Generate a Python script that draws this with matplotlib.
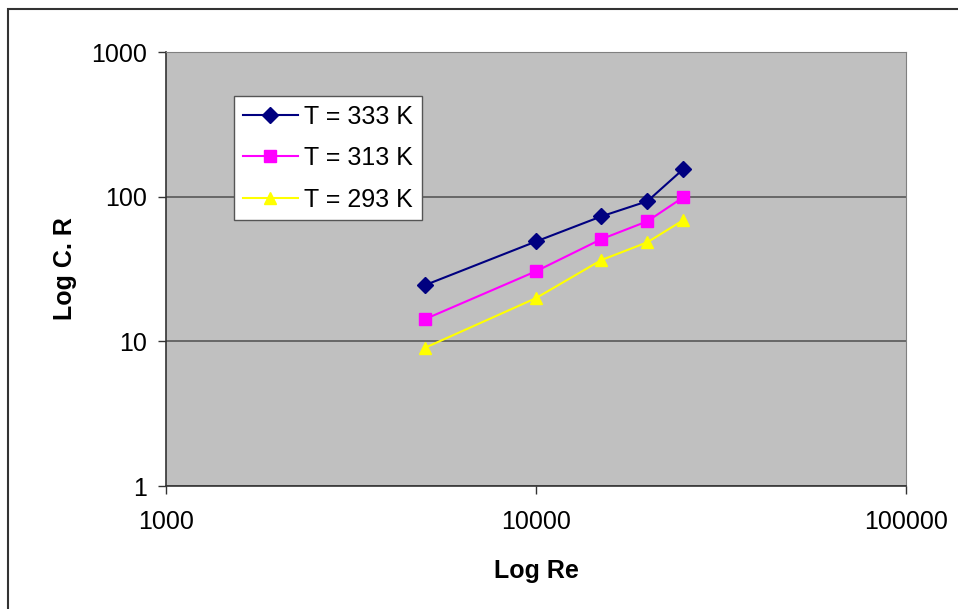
import matplotlib
matplotlib.use('Agg')
import matplotlib.pyplot as plt
from matplotlib.patches import Rectangle

plt.rcParams['font.family'] = ['Liberation Sans', 'DejaVu Sans']

# Reynolds numbers and corrosion rates
re = [5000, 10000, 15000, 20000, 25000]
cr333 = [24.4, 49, 73, 93, 155]
cr313 = [14.2, 30.5, 50.8, 67.6, 99]
cr293 = [9, 19.9, 36.4, 48.4, 68.8]
labels = ['T = 333 K', 'T = 313 K', 'T = 293 K']

fig = plt.figure(figsize=(9.58, 6.09), dpi=100)
ax = fig.add_axes([166/958, 1-486/609, 740/958, 434/609])

# outer chart frame (only left/top show in the picture)
fig.patches.append(Rectangle((8/958, -0.1), 2.0, (609-9)/609+0.1,
                             transform=fig.transFigure, fill=False,
                             edgecolor='#333333', linewidth=1.5))

ax.set_facecolor('#C0C0C0')
ax.plot(re, cr333, color='#000080', marker='D', markersize=8, linewidth=1.5, label=labels[0])
ax.plot(re, cr313, color='#FF00FF', marker='s', markersize=8, linewidth=1.5, label=labels[1])
ax.plot(re, cr293, color='#FFFF00', marker='^', markersize=9, linewidth=1.5, label=labels[2])

ax.set_xscale('log')
ax.set_yscale('log')
ax.set_xlim(1000, 100000)
ax.set_ylim(1, 1000)
ax.minorticks_off()
ax.set_xticks([1000, 10000, 100000])
ax.set_xticklabels(['1000', '10000', '100000'])
ax.set_yticks([1, 10, 100, 1000])
ax.set_yticklabels(['1', '10', '100', '1000'])
ax.tick_params(axis='both', direction='out', length=6, width=1, color='#333333',
               labelsize=18)
ax.tick_params(axis='x', pad=11)
ax.tick_params(axis='y', pad=8)

ax.yaxis.grid(True, color='#606060', linewidth=1.3)
ax.set_axisbelow(True)
for s in ['top', 'right']:
    ax.spines[s].set_color('#808080')
for s in ['left', 'bottom']:
    ax.spines[s].set_color('#333333')
    ax.spines[s].set_linewidth(1.2)

ax.set_xlabel('Log Re', fontsize=18, fontweight='bold', labelpad=18)
ax.set_ylabel('Log C. R', fontsize=18, fontweight='bold', labelpad=10)

leg = ax.legend(loc='upper left', bbox_to_anchor=(0.092, 0.899), borderaxespad=0,
                fontsize=18, fancybox=False, framealpha=1, edgecolor='#555555',
                handlelength=2.2, handletextpad=0.25, labelspacing=0.7,
                borderpad=0.35)
leg.get_frame().set_linewidth(1)

fig.savefig('out.png', dpi=100)
